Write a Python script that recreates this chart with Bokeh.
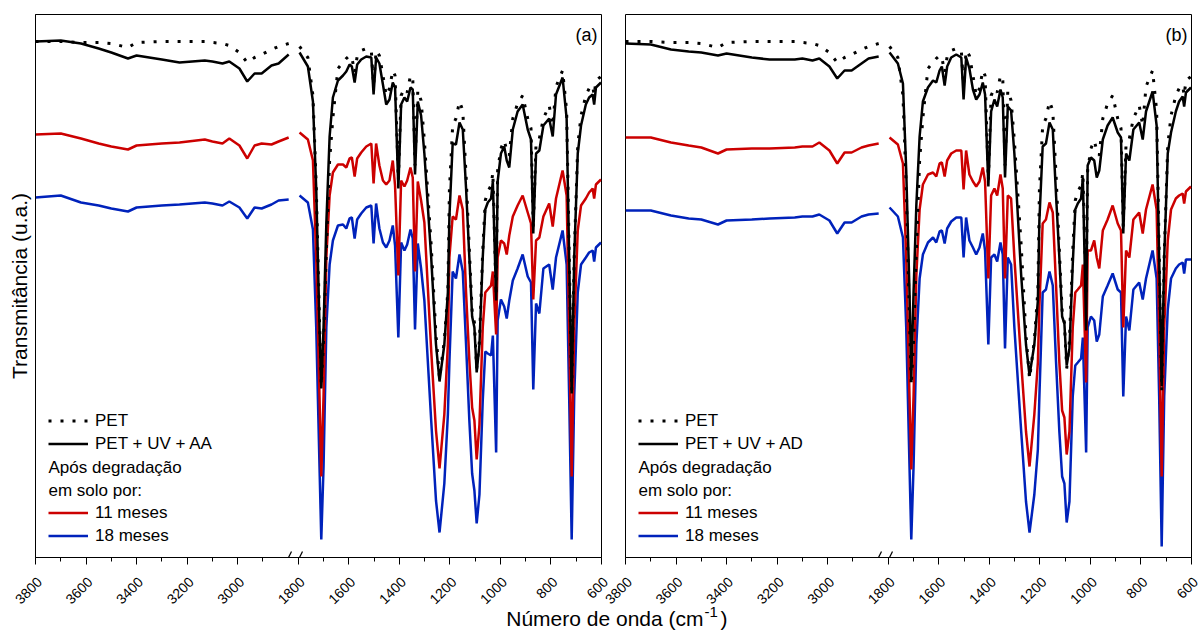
import math
import numpy as np
from bokeh.plotting import figure
from bokeh.models import Range1d, FixedTicker, Label, Legend, LegendItem, Arrow
from bokeh.layouts import row, column
from bokeh.embed import file_html
from bokeh.resources import INLINE

# ---------------- data (transmittance, arbitrary units) ----------------
wn_high = [3800, 3700, 3620, 3550, 3500, 3434, 3400, 3300, 3230, 3130,
           3100, 3060, 3033, 2993, 2962, 2933, 2905, 2866, 2838, 2798]

wn_low = [1795, 1762, 1742, 1729, 1716, 1709, 1700, 1689, 1676, 1663,
          1643, 1623, 1610, 1597, 1588, 1577, 1567, 1551, 1531, 1511,
          1502, 1492, 1479, 1465, 1452, 1439, 1426, 1417, 1404, 1393,
          1380, 1369, 1356, 1347, 1338, 1327, 1314, 1301, 1274, 1255,
          1241, 1222, 1208, 1202, 1189, 1176, 1162, 1149, 1136, 1123,
          1112, 1103, 1094, 1083, 1070, 1060, 1050, 1037, 1030, 1017,
          1011, 998, 985, 975, 965, 951, 932, 912, 892, 879,
          870, 859, 846, 830, 807, 793, 780, 754, 738, 728,
          718, 708, 694, 681, 662, 649, 635, 629, 622, 602]

pet_high = [516, 516, 515, 515, 514, 510, 515, 516, 516, 516,
            515, 514, 512, 505, 495, 500, 503, 508, 511, 514]
pet_low = [511, 500, 462, 372, 237, 172, 217, 307, 397, 440,
           489, 495, 499, 502, 500, 485, 501, 507, 509, 507,
           472, 507, 502, 482, 462, 469, 487, 482, 377, 462,
           469, 465, 482, 480, 392, 467, 457, 417, 312, 222,
           179, 217, 267, 367, 432, 439, 456, 447, 382, 307,
           247, 235, 189, 217, 307, 357, 366, 372, 385, 262,
           387, 409, 417, 407, 402, 439, 454, 462, 439, 429,
           329, 414, 419, 439, 452, 432, 471, 487, 447, 307,
           167, 302, 412, 442, 462, 469, 472, 462, 477, 481]

# panel (a): PET + UV + AA
uvaa_high = [516, 517, 514, 509, 505, 499, 502, 498, 495, 497,
             496, 494, 496, 489, 476, 484, 484, 492, 494, 503]
uvaa_low = [505, 491, 456, 369, 230, 169, 230, 334, 421, 460,
            477, 482, 486, 493, 491, 475, 493, 498, 501, 500,
            463, 500, 494, 473, 453, 458, 475, 470, 369, 453,
            460, 456, 470, 468, 383, 456, 442, 404, 300, 213,
            176, 213, 265, 340, 414, 413, 435, 428, 369, 300,
            241, 230, 185, 213, 300, 348, 355, 359, 376, 257,
            376, 404, 411, 397, 390, 428, 446, 453, 428, 418,
            324, 404, 407, 432, 439, 421, 463, 480, 439, 300,
            164, 300, 404, 432, 453, 460, 463, 453, 470, 475]
aa11_high = [423, 424, 419, 414, 411, 408, 412, 414, 415, 418,
             416, 414, 419, 412, 399, 412, 414, 413, 416, 420]
aa11_low = [425, 418, 397, 300, 161, 81, 161, 300, 362, 385,
            393, 393, 390, 399, 400, 381, 399, 405, 411, 414,
            374, 414, 392, 377, 373, 377, 397, 372, 282, 377,
            371, 377, 390, 380, 286, 376, 357, 335, 207, 127,
            89, 143, 213, 300, 341, 338, 362, 348, 265, 197,
            150, 137, 98, 133, 230, 265, 268, 272, 286, 223,
            300, 317, 314, 303, 322, 341, 352, 362, 345, 334,
            258, 317, 320, 341, 354, 331, 359, 387, 362, 230,
            81, 230, 327, 352, 359, 365, 369, 359, 373, 378]
aa18_high = [360, 362, 355, 352, 349, 346, 350, 352, 353, 355,
             354, 352, 356, 350, 339, 350, 349, 353, 357, 358]
aa18_low = [362, 355, 328, 230, 91, 18, 91, 230, 293, 317,
            332, 333, 329, 339, 340, 319, 338, 344, 350, 352,
            314, 354, 329, 315, 310, 317, 332, 312, 220, 315,
            307, 313, 328, 319, 228, 314, 289, 257, 137, 57,
            25, 74, 143, 195, 286, 279, 303, 286, 213, 137,
            84, 67, 34, 63, 157, 206, 204, 202, 222, 105,
            237, 258, 251, 239, 257, 277, 289, 303, 281, 275,
            168, 254, 244, 289, 293, 268, 300, 327, 293, 161,
            18, 161, 265, 293, 300, 305, 307, 296, 310, 315]

# panel (b): PET + UV + AD
uvad_high = [514, 513, 508, 506, 505, 502, 504, 500, 498, 498,
             499, 497, 499, 491, 479, 487, 487, 494, 499, 501]
uvad_low = [505, 494, 474, 387, 265, 178, 265, 352, 421, 456,
            470, 477, 475, 487, 491, 472, 491, 500, 503, 500,
            458, 500, 489, 468, 458, 463, 475, 463, 371, 446,
            458, 451, 468, 460, 380, 451, 447, 404, 282, 213,
            182, 213, 257, 337, 411, 414, 435, 428, 362, 300,
            241, 234, 192, 209, 293, 348, 354, 359, 380, 227,
            392, 400, 397, 380, 387, 418, 432, 440, 425, 420,
            324, 404, 397, 428, 435, 418, 446, 466, 432, 300,
            171, 300, 404, 425, 446, 456, 461, 451, 465, 470]
ad11_high = [420, 420, 415, 412, 410, 404, 408, 409, 409, 410,
             411, 411, 415, 407, 394, 405, 405, 410, 412, 414]
ad11_low = [420, 413, 394, 300, 161, 88, 161, 282, 348, 373,
            383, 385, 381, 394, 395, 381, 397, 404, 407, 407,
            368, 407, 383, 376, 371, 376, 390, 376, 279, 362,
            369, 362, 383, 369, 279, 362, 359, 300, 195, 126,
            91, 143, 195, 251, 334, 338, 355, 345, 272, 195,
            147, 140, 103, 126, 230, 265, 268, 272, 293, 175,
            307, 307, 317, 300, 289, 327, 338, 352, 334, 327,
            230, 307, 300, 338, 345, 324, 348, 373, 348, 230,
            81, 230, 317, 348, 359, 362, 364, 354, 366, 371]
ad18_high = [347, 347, 342, 339, 338, 333, 337, 338, 339, 340,
             341, 341, 343, 337, 324, 335, 335, 341, 343, 344]
ad18_low = [350, 341, 320, 230, 91, 18, 91, 213, 279, 303,
            315, 320, 315, 326, 327, 314, 329, 336, 340, 340,
            300, 340, 317, 310, 303, 310, 324, 307, 213, 300,
            303, 296, 315, 303, 209, 300, 293, 230, 126, 56,
            25, 63, 108, 161, 265, 268, 286, 272, 195, 126,
            81, 74, 35, 56, 161, 192, 195, 199, 220, 105,
            230, 241, 237, 216, 223, 261, 272, 284, 268, 265,
            161, 241, 227, 268, 275, 258, 279, 307, 279, 161,
            11, 161, 248, 279, 289, 293, 295, 284, 298, 298]

tick_wn = [3800, 3600, 3400, 3200, 3000, 1800, 1600, 1400, 1200, 1000, 800, 600]
tick_labels = ["3800", "3600", "3400", "3200", "3000", "1800", "1600", "1400",
               "1200", "1000", "800", "600"]
minor_wn = [3700, 3500, 3300, 3100, 2900, 1700, 1500, 1300, 1100, 900, 700]

# ---------------- broken axis mapping ----------------
GAP = 40  # blank axis units between 2800 and 1800
X_END = 1000 + GAP + 1200


def xpos(w):
    w = np.asarray(w, dtype=float)
    return np.where(w >= 2300, 3800 - w, 1000 + GAP + (1800 - w))


FONT = "Liberation Sans"
RED = "#CC0000"
BLUE = "#0022BB"
BLACK = "#000000"
LW = 2.5

ROW_H = 565
TOTAL_W, TOTAL_H = 1201, 631
FRAME_W = 566
FRAME_LEFT = {"a": 35, "b": 625}


def make_panel(width, bl, br, letter, uv_label, uv_hi, uv_lo, m11_hi, m11_lo, m18_hi, m18_lo, ylabel):
    p = figure(width=width, height=ROW_H, x_range=Range1d(0, X_END),
               y_range=Range1d(0, 543), output_backend="svg", toolbar_location=None,
               min_border_left=bl, min_border_right=br, min_border_top=14, min_border_bottom=8,
               y_axis_location="left" if ylabel else None)
    p.grid.visible = False
    p.outline_line_color = "black"
    p.outline_line_width = 1
    p.outline_line_alpha = 1
    p.background_fill_color = "white"
    p.border_fill_color = "white"

    ax = p.xaxis[0]
    ax.ticker = FixedTicker(ticks=list(xpos(tick_wn)), minor_ticks=list(xpos(minor_wn)))
    ax.major_label_overrides = {float(u): "" for u in xpos(tick_wn)}
    ax.major_label_text_font_size = "0px"
    ax.major_label_standoff = 0
    ax.major_tick_out = 7
    ax.major_tick_in = 0
    ax.minor_tick_out = 4
    ax.minor_tick_in = 0
    ax.axis_line_color = "black"
    ax.major_tick_line_color = "black"
    ax.minor_tick_line_color = "black"

    if ylabel:
        ya = p.yaxis[0]
        ya.ticker = FixedTicker(ticks=[])
        ya.axis_label = "Transmitância (u.a.)"
        ya.axis_label_text_font = FONT
        ya.axis_label_text_font_size = "21px"
        ya.axis_label_text_font_style = "normal"
        ya.axis_label_text_color = "black"
        ya.axis_label_standoff = 5
        ya.axis_line_color = "black"
        ya.major_tick_out = 0
        ya.minor_tick_out = 0

    series = [
        (m18_hi, m18_lo, dict(line_color=BLUE, line_width=LW)),
        (m11_hi, m11_lo, dict(line_color=RED, line_width=LW)),
        (uv_hi, uv_lo, dict(line_color=BLACK, line_width=LW)),
        (pet_high, pet_low, dict(line_color=BLACK, line_width=3, line_dash="3 9")),
    ]
    rends = []
    for hi, lo, style in series:
        p.line(xpos(wn_high), hi, **style)
        rends.append(p.line(xpos(wn_low), lo, **style))
    r18, r11, ruv, rpet = rends

    leg_style = dict(background_fill_alpha=0, border_line_color=None, padding=0, margin=0,
                     spacing=0, glyph_width=40, glyph_height=23, label_height=23,
                     label_standoff=7, label_text_font=FONT, label_text_font_size="17px",
                     label_text_color="black")
    leg1 = Legend(items=[LegendItem(label="PET", renderers=[rpet]),
                         LegendItem(label=uv_label, renderers=[ruv])],
                  location=(13, 102), **leg_style)
    leg2 = Legend(items=[LegendItem(label="11 meses", renderers=[r11]),
                         LegendItem(label="18 meses", renderers=[r18])],
                  location=(13, 10), **leg_style)
    p.add_layout(leg1)
    p.add_layout(leg2)

    for txt, y in (("Após degradação", 90), ("em solo por:", 67)):
        p.add_layout(Label(x=13, y=y, x_units="screen", y_units="screen", text=txt,
                           text_font=FONT, text_font_size="17px", text_color="black",
                           text_baseline="middle"))
    p.add_layout(Label(x=562, y=523, x_units="screen", y_units="screen", text=letter,
                       text_font=FONT, text_font_size="18px", text_color="black",
                       text_align="right", text_baseline="middle"))

    # axis break marks
    for x0 in (249, 260):
        p.add_layout(Arrow(end=None, start=None, x_start=x0, y_start=-8, x_end=x0 + 7, y_end=6,
                           start_units="screen", end_units="screen",
                           line_color="black", line_width=1.2))
    return p


pa = make_panel(612, 35, 11, "(a)", "PET + UV + AA", uvaa_high, uvaa_low,
                aa11_high, aa11_low, aa18_high, aa18_low, True)
pb = make_panel(589, 13, 10, "(b)", "PET + UV + AD", uvad_high, uvad_low,
                ad11_high, ad11_low, ad18_high, ad18_low, False)

# bottom strip: rotated tick labels of both panels and the shared axis title
STRIP_H = TOTAL_H - ROW_H
strip = figure(width=TOTAL_W, height=STRIP_H, x_range=Range1d(0, TOTAL_W),
               y_range=Range1d(0, STRIP_H), output_backend="svg", toolbar_location=None,
               min_border=0, x_axis_location=None, y_axis_location=None, title=None)
strip.grid.visible = False
strip.outline_line_color = None
scale = FRAME_W / X_END
for key in ("a", "b"):
    for u, lab in zip(xpos(tick_wn), tick_labels):
        strip.add_layout(Label(x=FRAME_LEFT[key] + u * scale + 4, y=STRIP_H - 14,
                               x_units="screen", y_units="screen", text=lab,
                               angle=math.pi / 4, text_font=FONT, text_font_size="14px",
                               text_color="black", text_align="right", text_baseline="middle"))

strip.add_layout(Label(x=703, y=13, x_units="screen", y_units="screen", text="Número de onda (cm",
                       text_font=FONT, text_font_size="21px", text_color="black",
                       text_align="right", text_baseline="alphabetic"))
strip.add_layout(Label(x=704, y=20, x_units="screen", y_units="screen", text="-1",
                       text_font=FONT, text_font_size="15px", text_color="black",
                       text_align="left", text_baseline="alphabetic"))
strip.add_layout(Label(x=720, y=13, x_units="screen", y_units="screen", text=")",
                       text_font=FONT, text_font_size="21px", text_color="black",
                       text_align="left", text_baseline="alphabetic"))

layout = column(row(pa, pb), strip)
open("out.html", "w").write(file_html(layout, INLINE))
